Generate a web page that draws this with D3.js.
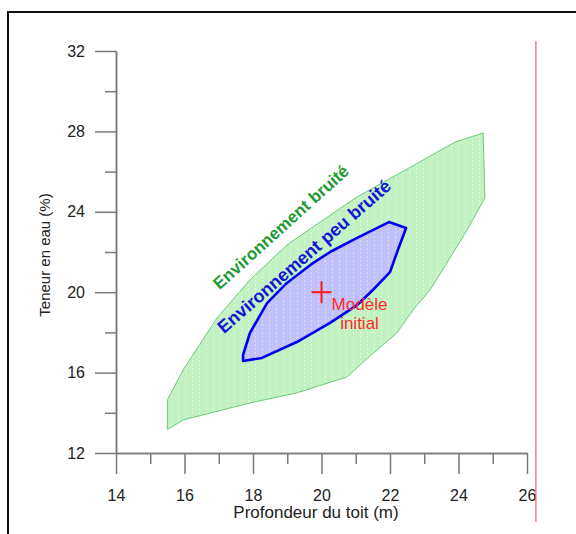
<!DOCTYPE html>
<html>
<head>
<meta charset="utf-8">
<script src="https://cdn.jsdelivr.net/npm/d3@7"></script>
<style>
  html, body { margin: 0; padding: 0; background: #fff; }
  svg { display: block; }
  text { font-family: "Liberation Sans", Arial, sans-serif; }
</style>
</head>
<body>
<script>
// ---------- data ----------
const xTickValues = [14, 16, 18, 20, 22, 24, 26];
const xMinorValues = [15, 17, 19, 21, 23, 25];
const yTickValues = [12, 16, 20, 24, 28, 32];
const yMinorValues = [14, 18, 22, 26, 30];
const xTitle = "Profondeur du toit (m)";
const yTitle = "Teneur en eau (%)";

// noisy environment zone (depth m, water content %)
const noisyZone = [
  [15.50, 13.17], [15.50, 14.64], [15.96, 16.13], [16.95, 18.72], [17.91, 20.61],
  [18.99, 22.35], [19.96, 23.49], [21.04, 24.74], [22.29, 25.93], [23.90, 27.47],
  [24.72, 27.92], [24.77, 24.69], [24.25, 23.09], [23.66, 21.45], [23.17, 20.11],
  [22.67, 19.11], [22.20, 17.97], [21.42, 16.83], [20.74, 15.78], [19.28, 14.99],
  [17.91, 14.49], [15.96, 13.64]
];
// low-noise environment zone
const quietZone = [
  [21.97, 23.49], [22.47, 23.19], [22.23, 22.10], [22.00, 21.00], [21.50, 20.11],
  [21.04, 19.36], [20.25, 18.47], [19.28, 17.52], [18.26, 16.73], [17.71, 16.58],
  [17.71, 16.88], [17.91, 17.97], [18.41, 19.46], [18.99, 20.46], [19.75, 21.45],
  [20.25, 22.00], [21.04, 22.70]
];
const initialModel = [20, 20];
const zoneLabels = ["Environnement bruité", "Environnement peu bruité"];
const modelLabel = ["Modèle", "initial"];
const redLineX = 26.26;
const redLineY = [32.5, 8.57];

// ---------- drawing ----------
const W = 576, H = 534;
const svg = d3.select("body").append("svg").attr("width", W).attr("height", H);

const x = d3.scaleLinear().domain([14, 26]).range([116, 527]);
const y = d3.scaleLinear().domain([12, 32]).range([453, 51]);

// frame
svg.append("rect").attr("x", 8).attr("y", 12).attr("width", 700).attr("height", 700)
  .attr("fill", "none").attr("stroke", "#111").attr("stroke-width", 2);

// stipple patterns
const defs = svg.append("defs");
function pattern(id, base, dot) {
  const p = defs.append("pattern").attr("id", id).attr("patternUnits", "userSpaceOnUse")
    .attr("width", 7).attr("height", 4);
  p.append("rect").attr("width", 7).attr("height", 4).attr("fill", base);
  p.append("rect").attr("x", 3).attr("y", 0).attr("width", 1).attr("height", 2).attr("fill", dot);
}
pattern("pGreen", "#c2f1c2", "#e2f5e2");
pattern("pBlue", "#c0c0fa", "#dcdaf4");

// axes
const axisColor = "#7a7a7a";
function styleAxis(g) {
  g.select(".domain").attr("stroke", axisColor).attr("stroke-width", 1.5);
  g.selectAll(".tick line").attr("stroke", axisColor).attr("stroke-width", 1.5);
  g.selectAll(".tick text").attr("fill", "#222").style("font-size", "16px")
    .style("font-family", "'Liberation Sans', Arial, sans-serif");
}
const gx = svg.append("g").attr("transform", `translate(0,${y(12)})`)
  .call(d3.axisBottom(x).tickValues(xTickValues).tickSize(21).tickSizeOuter(0).tickPadding(16).tickFormat(d3.format("d")));
styleAxis(gx);
const gxm = svg.append("g").attr("transform", `translate(0,${y(12)})`)
  .call(d3.axisBottom(x).tickValues(xMinorValues).tickSize(11).tickSizeOuter(0).tickFormat(""));
styleAxis(gxm);
const gy = svg.append("g").attr("transform", `translate(${x(14)},0)`)
  .call(d3.axisLeft(y).tickValues(yTickValues).tickSize(21).tickSizeOuter(0).tickPadding(10).tickFormat(d3.format("d")));
styleAxis(gy);
const gym = svg.append("g").attr("transform", `translate(${x(14)},0)`)
  .call(d3.axisLeft(y).tickValues(yMinorValues).tickSize(11).tickSizeOuter(0).tickFormat(""));
styleAxis(gym);

// axis titles
svg.append("text").attr("x", 316).attr("y", 518).attr("text-anchor", "middle")
  .style("font-size", "17px").attr("fill", "#222").text(xTitle);
svg.append("text").attr("transform", `translate(50,255) rotate(-90)`).attr("text-anchor", "middle")
  .style("font-size", "15px").attr("fill", "#222").text(yTitle);

// red vertical line
svg.append("line").attr("x1", x(redLineX)).attr("x2", x(redLineX))
  .attr("y1", y(redLineY[0])).attr("y2", y(redLineY[1]))
  .attr("stroke", "#f26060").attr("stroke-width", 1.2);

// zones
const line = d3.line().x(d => x(d[0])).y(d => y(d[1])).curve(d3.curveLinearClosed);
svg.append("path").attr("d", line(noisyZone)).attr("fill", "url(#pGreen)")
  .attr("stroke", "#6acb7a").attr("stroke-width", 1);
svg.append("path").attr("d", line(quietZone)).attr("fill", "url(#pBlue)")
  .attr("stroke", "#0000ee").attr("stroke-width", 2.6).attr("stroke-linejoin", "round");

// initial model cross
const cx = x(initialModel[0]), cy = y(initialModel[1]);
svg.append("line").attr("x1", cx - 10).attr("x2", cx + 10).attr("y1", cy).attr("y2", cy)
  .attr("stroke", "#ff1a1a").attr("stroke-width", 2);
svg.append("line").attr("x1", cx).attr("x2", cx).attr("y1", cy - 11).attr("y2", cy + 11)
  .attr("stroke", "#ff1a1a").attr("stroke-width", 2);
svg.append("text").attr("x", cx + 38).attr("y", cy + 18).attr("text-anchor", "middle")
  .style("font-size", "17px").attr("fill", "#ff2a2a").text(modelLabel[0]);
svg.append("text").attr("x", cx + 38).attr("y", cy + 37).attr("text-anchor", "middle")
  .style("font-size", "17px").attr("fill", "#ff2a2a").text(modelLabel[1]);

// zone labels
svg.append("text").attr("transform", `translate(${x(18.93)},${y(23.02)}) rotate(-42)`)
  .attr("text-anchor", "middle").style("font-size", "17px").style("font-weight", "bold")
  .attr("fill", "#1e9a34").text(zoneLabels[0]);
svg.append("text").attr("transform", `translate(${x(19.61)},${y(21.55)}) rotate(-41)`)
  .attr("text-anchor", "middle").style("font-size", "18px").style("font-weight", "bold")
  .attr("fill", "#1414d6").text(zoneLabels[1]);
</script>
</body>
</html>
